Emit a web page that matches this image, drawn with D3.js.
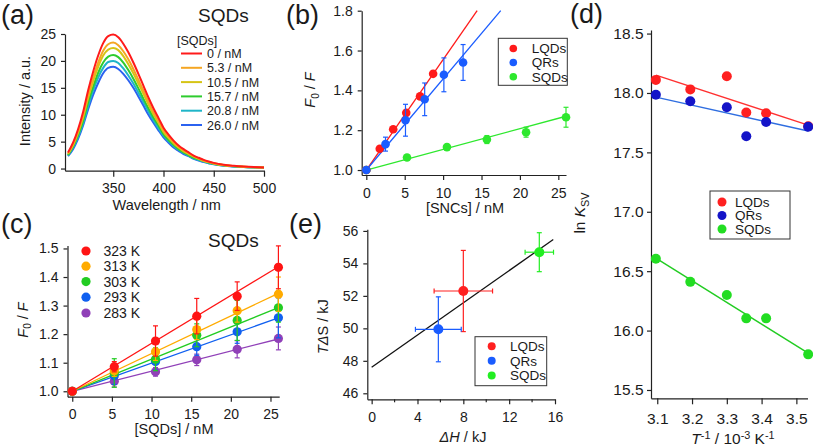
<!DOCTYPE html>
<html><head><meta charset="utf-8">
<script src="https://cdn.jsdelivr.net/npm/d3@7"></script>
<style>
body{margin:0;background:#fff}
svg{display:block}
text{font-family:"Liberation Sans",Arial,Helvetica,sans-serif;fill:#1a1a1a}
</style>
</head><body>
<svg id="fig" width="813" height="448"></svg>
<script>
// ---------- Panel (a): emission spectra ----------
const wavelengths = [305,310,315,320,325,330,335,340,345,350,355,360,365,370,375,380,385,390,395,400,405,410,415,420,425,430,435,440,445,450,460,470,480,490,500];
const concLabels = ["0 / nM","5.3 / nM","10.5 / nM","15.7 / nM","20.8 / nM","26.0 / nM"];
const spectraColors = ["#ff1a1a","#f5a623","#d6c415","#2ecc2e","#1fb5c8","#2b62f0"];
const spec0  = [3.0,4.8,7.3,10.5,14.5,18.0,21.0,23.3,24.6,24.9,24.4,23.2,21.6,19.7,17.6,15.4,13.2,11.2,9.4,7.6,6.3,5.2,4.3,3.6,3.0,2.4,2.0,1.6,1.3,1.05,0.7,0.5,0.36,0.27,0.21];
const spec53 = [2.8,4.5,6.9,9.9,13.6,16.9,19.7,21.9,23.1,23.4,22.9,21.8,20.3,18.5,16.5,14.5,12.4,10.5,8.8,7.1,5.9,4.9,4.0,3.4,2.8,2.3,1.9,1.5,1.2,1.0,0.66,0.47,0.34,0.25,0.2];
const spec105= [2.7,4.3,6.6,9.5,13.1,16.2,18.9,21.0,22.1,22.4,22.0,20.9,19.4,17.7,15.8,13.9,11.9,10.1,8.5,6.8,5.7,4.7,3.9,3.2,2.7,2.2,1.8,1.4,1.2,0.95,0.63,0.45,0.32,0.24,0.19];
const spec157= [2.5,4.1,6.2,8.9,12.3,15.2,17.8,19.7,20.8,21.1,20.7,19.7,18.3,16.7,14.9,13.0,11.2,9.5,8.0,6.4,5.3,4.4,3.6,3.0,2.5,2.0,1.7,1.4,1.1,0.9,0.6,0.42,0.3,0.23,0.18];
const spec208= [2.4,3.9,5.9,8.4,11.6,14.5,16.9,18.7,19.8,20.0,19.6,18.6,17.3,15.8,14.1,12.4,10.6,9.0,7.5,6.1,5.1,4.2,3.5,2.9,2.4,1.9,1.6,1.3,1.0,0.85,0.56,0.4,0.29,0.22,0.17];
const spec260= [2.3,3.6,5.5,8.0,11.0,13.7,15.9,17.7,18.7,18.9,18.5,17.6,16.4,15.0,13.4,11.7,10.0,8.5,7.1,5.8,4.8,3.9,3.3,2.7,2.3,1.8,1.5,1.2,1.0,0.8,0.53,0.38,0.27,0.2,0.16];
const spectra = [spec0,spec53,spec105,spec157,spec208,spec260];
const aXTicks = [350,400,450,500];
const aYTicks = [0,5,10,15,20,25];

// ---------- Panel (b): Stern-Volmer, three SNCs ----------
const bNames = ["LQDs","QRs","SQDs"];
const bColors = ["#ff1a1a","#1a5cff","#2ee82e"];
const bLqdX = [0,1.75,3.5,5.2,7.0,8.7];
const bLqdY = [1.0,1.107,1.205,1.287,1.37,1.483];
const bLqdErr = [0,0,0,0,0,0];
const bQrX = [0,2.5,5.1,7.6,10.1,12.6];
const bQrY = [1.0,1.13,1.25,1.355,1.478,1.54];
const bQrErr = [0,0.035,0.08,0.082,0.085,0.09];
const bSqdX = [0,5.3,10.5,15.7,20.8,26.0];
const bSqdY = [1.0,1.063,1.115,1.153,1.19,1.265];
const bSqdErr = [0,0.012,0.012,0.02,0.025,0.05];
const bFitLqd = [[0,1.0],[14.43,1.8]];
const bFitQr  = [[0,1.0],[17.5,1.8]];
const bFitSqd = [[0,1.0],[26.0,1.27]];
const bXTicks = [0,5,10,15,20,25];
const bYTicks = [1.0,1.2,1.4,1.6,1.8];

// ---------- Panel (c): SQDs at several temperatures ----------
const cConc = [0,5.3,10.5,15.7,20.8,26.0];
const cTemps = ["323 K","313 K","303 K","293 K","283 K"];
const cColors = ["#ff1414","#ffab00","#22cc22","#1060f0","#9040b8"];
const c323 = [1.0,1.086,1.176,1.263,1.333,1.434];
const c313 = [1.0,1.072,1.138,1.216,1.282,1.340];
const c303 = [1.0,1.064,1.112,1.196,1.248,1.292];
const c293 = [1.0,1.054,1.104,1.156,1.208,1.257];
const c283 = [1.0,1.035,1.068,1.110,1.147,1.185];
const cErr323 = [0,0.018,0.053,0.062,0.05,0.075];
const cErr313 = [0,0.02,0.03,0.035,0.04,0.06];
const cErr303 = [0,0.05,0.04,0.04,0.07,0.05];
const cErr293 = [0,0.03,0.03,0.03,0.04,0.07];
const cErr283 = [0,0.02,0.015,0.02,0.03,0.04];
const cFitEnd = [1.436,1.343,1.293,1.257,1.183];
const cXTicks = [0,5,10,15,20,25];
const cYTicks = [1.0,1.1,1.2,1.3,1.4,1.5];

// ---------- Panel (d): van 't Hoff ----------
const dNames = ["LQDs","QRs","SQDs"];
const dPointColors = ["#ff2020","#1414c8","#22dd22"];
const dLineColors = ["#ff3030","#2f6ee0","#22cc22"];
const dInvT = [3.096,3.195,3.300,3.356,3.413,3.534];
const dLqd = [18.11,18.03,18.14,17.835,17.83,17.72];
const dQr  = [17.985,17.93,17.88,17.635,17.755,17.715];
const dSqd = [16.605,16.41,16.3,16.103,16.103,15.8];
const dFitLqd = [[3.096,18.15],[3.534,17.73]];
const dFitQr  = [[3.096,17.965],[3.534,17.68]];
const dFitSqd = [[3.096,16.61],[3.534,15.81]];
const dXTicks = [3.1,3.2,3.3,3.4,3.5];
const dYTicks = [15.5,16.0,16.5,17.0,17.5,18.0,18.5];

// ---------- Panel (e): enthalpy-entropy compensation ----------
const eNames = ["LQDs","QRs","SQDs"];
const eColors = ["#ff2020","#1a5cff","#22ee22"];
const eDH = [8.0,5.82,14.63];
const eTDS = [52.3,49.94,54.69];
const eDHerr = [2.55,2.0,1.24];
const eTDSerr = [2.5,2.0,1.2];
const eFit = [[0,47.6],[15.85,55.47]];
const eXTicks = [0,4,8,12,16];
const eXMinor = [2,6,10,14];
const eYTicks = [46,48,50,52,54,56];

// ================= drawing =================
const svg = d3.select("#fig");
const AX = "#222";

function axes(x, y, o) {
  const g = svg.append("g");
  const xa = d3.axisBottom(x).tickValues(o.xTicks).tickFormat(o.xFmt)
    .tickSize(o.xTS || 5).tickSizeOuter(0).tickPadding(o.xPad || 7.5);
  const gx = g.append("g").attr("transform", `translate(0,${y.range()[0]})`).call(xa);
  const ya = d3.axisLeft(y).tickValues(o.yTicks).tickFormat(o.yFmt)
    .tickSize(4).tickSizeOuter(0).tickPadding(o.yPad || 5);
  const gy = g.append("g").attr("transform", `translate(${x.range()[0]},0)`).call(ya);
  [gx, gy].forEach(a => {
    a.attr("font-family", null).attr("font-size", null);
    a.selectAll("path,line").attr("stroke", AX).attr("stroke-width", 1.2);
    a.selectAll("text").attr("fill", "#1a1a1a").style("font-size", (o.fs || 14) + "px");
  });
  if (o.xMinor) {
    gx.selectAll(".minor").data(o.xMinor).enter().append("line")
      .attr("x1", d => x(d)).attr("x2", d => x(d)).attr("y1", 0).attr("y2", 3)
      .attr("stroke", AX).attr("stroke-width", 1.2);
  }
  return g;
}

function label(txt, x, y) {
  svg.append("text").attr("x", x).attr("y", y).style("font-size", "27px").text(txt);
}

// parts: {t, i: italic, dy: baseline shift in px, small: smaller font}
function rich(parts, x, y, size, rotate) {
  const t = svg.append("text").attr("text-anchor", "middle").style("font-size", size + "px");
  if (rotate) t.attr("transform", `translate(${x},${y}) rotate(-90)`).attr("dy", "0.35em");
  else t.attr("x", x).attr("y", y);
  parts.forEach(p => {
    const s = t.append("tspan").text(p.t);
    if (p.i) s.style("font-style", "italic");
    if (p.dy) s.attr("dy", p.dy);
    if (p.small) s.style("font-size", (size * 0.7) + "px");
  });
  return t;
}

function errY(g, x, y, xs, ys, es, color, cap) {
  xs.forEach((xv, i) => {
    if (!es[i]) return;
    const px = x(xv), y1 = y(ys[i] - es[i]), y2 = y(ys[i] + es[i]);
    g.append("line").attr("x1", px).attr("x2", px).attr("y1", y1).attr("y2", y2).attr("stroke", color).attr("stroke-width", 1.2);
    [y1, y2].forEach(yy => g.append("line").attr("x1", px - cap).attr("x2", px + cap).attr("y1", yy).attr("y2", yy).attr("stroke", color).attr("stroke-width", 1.2));
  });
}
function errX(g, x, y, xv, yv, e, color, cap) {
  const py = y(yv), x1 = x(xv - e), x2 = x(xv + e);
  g.append("line").attr("x1", x1).attr("x2", x2).attr("y1", py).attr("y2", py).attr("stroke", color).attr("stroke-width", 1.2);
  [x1, x2].forEach(xx => g.append("line").attr("x1", xx).attr("x2", xx).attr("y1", py - cap).attr("y2", py + cap).attr("stroke", color).attr("stroke-width", 1.2));
}
function dots(g, x, y, xs, ys, color, r) {
  g.selectAll(null).data(xs).enter().append("circle")
    .attr("cx", d => x(d)).attr("cy", (d, i) => y(ys[i])).attr("r", r).attr("fill", color);
}
function seg(g, x, y, pts, color, w) {
  g.append("path").attr("d", d3.line().x(d => x(d[0])).y(d => y(d[1]))(pts))
    .attr("fill", "none").attr("stroke", color).attr("stroke-width", w || 1.3);
}
function legendBox(x0, y0, w, h, names, colors, mx, tx, rows, fs, r) {
  svg.append("rect").attr("x", x0).attr("y", y0).attr("width", w).attr("height", h)
    .attr("fill", "#fff").attr("stroke", "#333").attr("stroke-width", 1);
  names.forEach((n, i) => {
    svg.append("circle").attr("cx", mx).attr("cy", rows[i]).attr("r", r).attr("fill", colors[i]);
    svg.append("text").attr("x", tx).attr("y", rows[i]).attr("dy", "0.36em").style("font-size", fs + "px").text(n);
  });
}

// ---- (a)
{
  const x = d3.scaleLinear().domain([302, 500]).range([65, 264]);
  const y = d3.scaleLinear().domain([-0.4, 25]).range([170.7, 34]);
  axes(x, y, {xTicks: aXTicks, yTicks: aYTicks, xFmt: d3.format("d"), yFmt: d3.format("d"), xTS: 6, xPad: 6.5});
  const g = svg.append("g");
  const line = d3.line().x((d, i) => x(wavelengths[i])).y(d => y(d)).curve(d3.curveMonotoneX);
  for (let i = spectra.length - 1; i >= 0; i--) {
    g.append("path").attr("d", line(spectra[i])).attr("fill", "none").attr("stroke", spectraColors[i]).attr("stroke-width", 2);
  }
  label("(a)", 1, 24);
  svg.append("text").attr("x", 198).attr("y", 22).style("font-size", "19px").text("SQDs");
  svg.append("text").attr("x", 177).attr("y", 45).style("font-size", "12.5px").text("[SQDs]");
  concLabels.forEach((c, i) => {
    const yy = 53.5 + i * 14.3;
    svg.append("line").attr("x1", 181).attr("x2", 202).attr("y1", yy).attr("y2", yy).attr("stroke", spectraColors[i]).attr("stroke-width", 2);
    svg.append("text").attr("x", 207).attr("y", yy).attr("dy", "0.36em").style("font-size", "12.5px").text(c);
  });
  svg.append("text").attr("x", 166.7).attr("y", 210).attr("text-anchor", "middle").style("font-size", "14.5px").text("Wavelength / nm");
  rich([{t: "Intensity / a.u."}], 25, 101, 14.5, true);
}

// ---- (b)
{
  const x = d3.scaleLinear().domain([-0.6, 26]).range([361.7, 566]);
  const y = d3.scaleLinear().domain([0.975, 1.8]).range([175, 10.7]);
  axes(x, y, {xTicks: bXTicks, yTicks: bYTicks, xFmt: d3.format("d"), yFmt: d3.format(".1f"), xTS: 5, xPad: 8});
  const g = svg.append("g");
  seg(g, x, y, bFitSqd, bColors[2]);
  seg(g, x, y, bFitLqd, bColors[0]);
  seg(g, x, y, bFitQr, bColors[1]);
  errY(g, x, y, bSqdX, bSqdY, bSqdErr, bColors[2], 2.5);
  dots(g, x, y, bSqdX, bSqdY, bColors[2], 4.3);
  errY(g, x, y, bLqdX, bLqdY, bLqdErr, bColors[0], 2.5);
  dots(g, x, y, bLqdX, bLqdY, bColors[0], 4.3);
  errY(g, x, y, bQrX, bQrY, bQrErr, bColors[1], 2.5);
  dots(g, x, y, bQrX, bQrY, bColors[1], 4.3);
  legendBox(498.3, 38.3, 69, 47, bNames, bColors, 513.3, 531.7, [48.5, 62.5, 76.7], 13.5, 3.8);
  label("(b)", 286, 24);
  svg.append("text").attr("x", 465).attr("y", 213).attr("text-anchor", "middle").style("font-size", "14.5px").text("[SNCs] / nM");
  rich([{t: "F", i: true}, {t: "0", dy: 3.5, small: true}, {t: " / ", dy: -3.5}, {t: "F", i: true}], 310, 90, 14.5, true);
}

// ---- (c)
{
  const x = d3.scaleLinear().domain([-0.6, 26.1]).range([67.5, 279.2]);
  const y = d3.scaleLinear().domain([0.981, 1.51]).range([396.7, 245.6]);
  axes(x, y, {xTicks: cXTicks, yTicks: cYTicks, xFmt: d3.format("d"), yFmt: d3.format(".1f"), xTS: 5, xPad: 7});
  const g = svg.append("g");
  const cVals = [c323, c313, c303, c293, c283];
  const cErrs = [cErr323, cErr313, cErr303, cErr293, cErr283];
  for (let i = cVals.length - 1; i >= 0; i--) {
    seg(g, x, y, [[0, 1.0], [26.0, cFitEnd[i]]], cColors[i]);
  }
  for (let i = cVals.length - 1; i >= 0; i--) {
    errY(g, x, y, cConc, cVals[i], cErrs[i], cColors[i], 2.5);
    dots(g, x, y, cConc, cVals[i], cColors[i], 4.6);
  }
  cTemps.forEach((t, i) => {
    const yy = [251, 266.2, 281.6, 297.2, 313][i];
    svg.append("circle").attr("cx", 86).attr("cy", yy).attr("r", 4.6).attr("fill", cColors[i]);
    svg.append("text").attr("x", 103.5).attr("y", yy).attr("dy", "0.36em").style("font-size", "14px").text(t);
  });
  label("(c)", 1, 233);
  svg.append("text").attr("x", 208).attr("y", 247).style("font-size", "19px").text("SQDs");
  svg.append("text").attr("x", 174).attr("y", 434).attr("text-anchor", "middle").style("font-size", "14.5px").text("[SQDs] / nM");
  rich([{t: "F", i: true}, {t: "0", dy: 3.5, small: true}, {t: " / ", dy: -3.5}, {t: "F", i: true}], 22.7, 320, 14.5, true);
}

// ---- (e)
{
  const x = d3.scaleLinear().domain([-0.38, 16]).range([367.3, 555]);
  const y = d3.scaleLinear().domain([45.63, 56.1]).range([399.3, 229.3]);
  axes(x, y, {xTicks: eXTicks, yTicks: eYTicks, xFmt: d3.format("d"), yFmt: d3.format("d"), xTS: 5, xPad: 7.5, xMinor: eXMinor});
  const g = svg.append("g");
  seg(g, x, y, eFit, "#111", 1.3);
  eDH.forEach((v, i) => {
    errX(g, x, y, v, eTDS[i], eDHerr[i], eColors[i], 2.5);
    errY(g, x, y, [v], [eTDS[i]], [eTDSerr[i]], eColors[i], 2.5);
  });
  eDH.forEach((v, i) => dots(g, x, y, [v], [eTDS[i]], eColors[i], 5));
  legendBox(475, 336.7, 71.7, 49, eNames, eColors, 491.7, 510, [346.2, 360.8, 375.6], 13.5, 4);
  label("(e)", 289, 233);
  rich([{t: "ΔH", i: true}, {t: " / kJ"}], 463, 441.7, 14.5, false);
  rich([{t: "T", i: true}, {t: "Δ", i: true}, {t: "S / kJ"}], 323.3, 326.7, 14.5, true);
}

// ---- (d)
{
  const x = d3.scaleLinear().domain([3.082, 3.532]).range([651, 807.5]);
  const y = d3.scaleLinear().domain([15.43, 18.53]).range([398.3, 30]);
  axes(x, y, {xTicks: dXTicks, yTicks: dYTicks, xFmt: d3.format(".1f"), yFmt: d3.format(".1f"), xTS: 6, xPad: 9, fs: 15.5, yPad: 3.5});
  const g = svg.append("g");
  seg(g, x, y, dFitSqd, dLineColors[2], 1.4);
  seg(g, x, y, dFitQr, dLineColors[1], 1.4);
  seg(g, x, y, dFitLqd, dLineColors[0], 1.4);
  dots(g, x, y, dInvT, dSqd, dPointColors[2], 5);
  dots(g, x, y, dInvT, dLqd, dPointColors[0], 5);
  dots(g, x, y, dInvT, dQr, dPointColors[1], 5);
  legendBox(710, 191, 80, 48, dNames, dPointColors, 722, 735, [202, 215.5, 229], 13.5, 4.5);
  label("(d)", 570, 23);
  rich([{t: "ln "}, {t: "K", i: true}, {t: "SV", dy: 3.5, small: true}], 580, 213, 15.5, true);
  rich([{t: "T", i: true}, {t: "-1", dy: -5, small: true}, {t: " / 10", dy: 5}, {t: "-3", dy: -5, small: true}, {t: " K", dy: 5}, {t: "-1", dy: -5, small: true}], 733, 444, 15.5, false);
}
</script>
</body></html>
